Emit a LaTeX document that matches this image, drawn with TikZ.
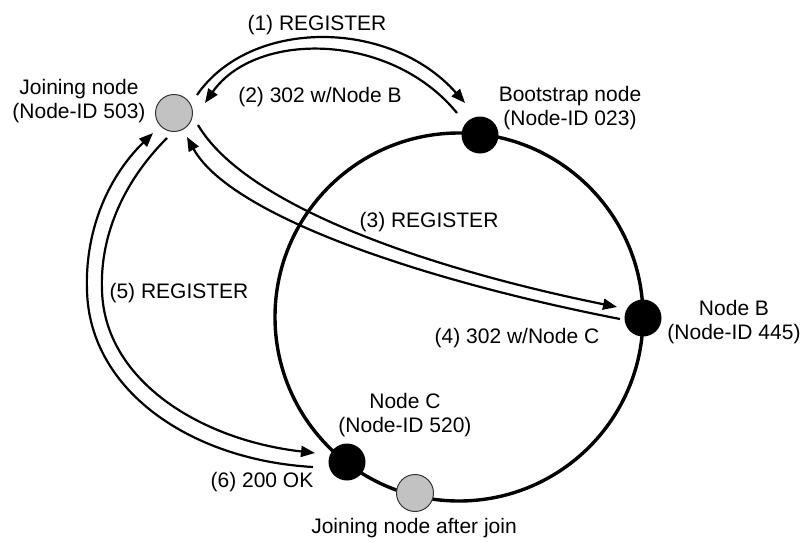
\documentclass[tikz,border=0pt]{standalone}
\usepackage{fontspec}
\setmainfont{Liberation Sans}
\usetikzlibrary{arrows.meta}
\begin{document}
\begin{tikzpicture}[x=0.5pt,y=-0.5pt,
  every node/.style={font=\fontsize{10.5}{11.8}\selectfont, align=center, inner sep=0pt},
  peer/.style={circle, fill=black, minimum size=18.5pt},
  joiner/.style={circle, fill=gray!48, draw=black!80, line width=0.5pt, minimum size=18.5pt},
  msg/.style={line width=1.1pt, -{Triangle[length=7pt,width=5.5pt]}},
  ring/.style={line width=1.7pt}]
\useasboundingbox (0,0) rectangle (803,541);
% ring
\coordinate (ctr) at (459,317);
\draw[ring] (ctr) circle[radius=184];
% nodes
\node[joiner] (jn) at (174,113) {};
\node[peer] (bs) at (480,135) {};
\node[peer] (nb) at (643,318) {};
\node[peer] (nc) at (347,462) {};
\node[joiner] (jj) at (415,493) {};
% labels
\node (ljn) at (79,101) {Joining node\\(Node-ID 503)};
\node (lbs) at (570,108) {Bootstrap node\\(Node-ID 023)};
\node (lnb) at (734,322) {Node B\\(Node-ID 445)};
\node (lnc) at (405,415) {Node C\\(Node-ID 520)};
\node (ljj) at (414,528) {Joining node after join};
\node (m1) at (317,25) {(1) REGISTER};
\node (m2) at (320,97) {(2) 302 w/Node B};
\node (m3) at (429,222) {(3) REGISTER};
\node (m4) at (517,338) {(4) 302 w/Node C};
\node (m5) at (179,293) {(5) REGISTER};
\node (m6) at (262,482) {(6) 200 OK};
% connector ends
\coordinate (a1s) at (197,95);  \coordinate (a1e) at (465,103);
\coordinate (a2s) at (457,113); \coordinate (a2e) at (205,103);
\coordinate (a3s) at (198,125); \coordinate (a3e) at (617,307);
\coordinate (a4s) at (620,319); \coordinate (a4e) at (187,137);
\coordinate (a5s) at (167,138); \coordinate (a5m) at (102,290); \coordinate (a5e) at (315,453);
\coordinate (a6s) at (313,467); \coordinate (a6m) at (87,290);  \coordinate (a6e) at (153,133);
% messages
\draw[msg] (a1s) .. controls (250,18) and (390,18) .. (a1e);
\draw[msg] (a2s) .. controls (390,31) and (255,31) .. (a2e);
\draw[msg] (a3s) .. controls (245,205) and (425,268) .. (a3e);
\draw[msg] (a4s) .. controls (420,280) and (230,215) .. (a4e);
\draw[msg] (a5s) .. controls (120,185) and (100,240) .. (a5m) .. controls (104,380) and (200,440) .. (a5e);
\draw[msg] (a6s) .. controls (190,460) and (89,390) .. (a6m) .. controls (85,235) and (105,180) .. (a6e);
\end{tikzpicture}
\end{document}
